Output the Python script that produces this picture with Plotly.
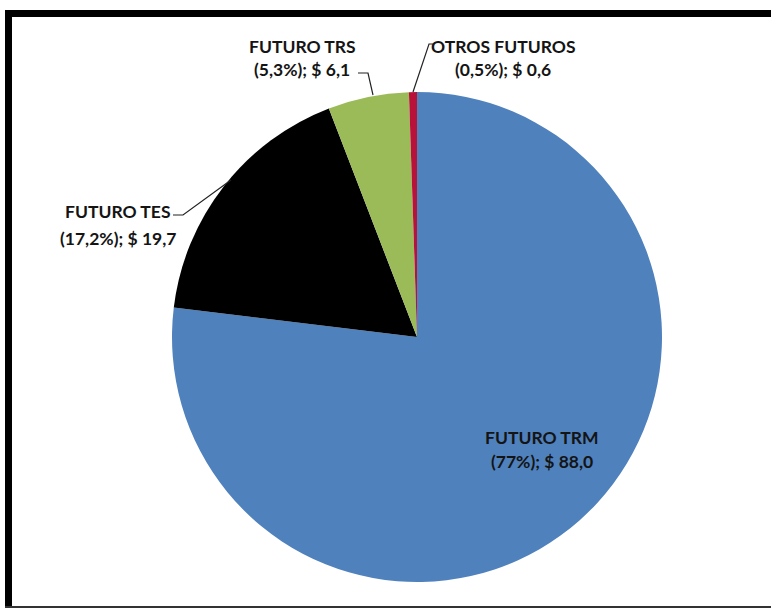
import plotly.graph_objects as go

# Futures volume by contract (billions), share in %
categories = ["FUTURO TRM", "FUTURO TES", "FUTURO TRS", "OTROS FUTUROS"]
values = [88.0, 19.7, 6.1, 0.6]
shares = ["77%", "17,2%", "5,3%", "0,5%"]
colors = ["#4F81BD", "#000000", "#9BBB59", "#B8123A"]

W, H = 771, 608


def px(x):
    return x / W


def py(y):
    return 1 - y / H


def fmt(v):
    return f"{v:.1f}".replace(".", ",")


fig = go.Figure(
    go.Pie(
        labels=categories,
        values=values,
        sort=False,
        direction="clockwise",
        rotation=0,
        marker=dict(colors=colors, line=dict(color="#ffffff", width=0)),
        textinfo="none",
        hoverinfo="label+value+percent",
        showlegend=False,
        domain=dict(x=[px(172), px(662)], y=[py(582), py(92)]),
    )
)

# label anchor points (line 1 centre, line 2 centre)
label_pos = {
    "FUTURO TRM": (542, 437, 462),
    "FUTURO TES": (118, 211, 238),
    "FUTURO TRS": (302, 46, 69),
    "OTROS FUTUROS": (503, 46, 69),
}

font = dict(family="Lato", size=17.5, color="#141414")
for cat, val, share in zip(categories, values, shares):
    x, y1, y2 = label_pos[cat]
    fig.add_annotation(x=px(x), y=py(y1), xref="paper", yref="paper",
                       text=f"<b>{cat}</b>", showarrow=False, font=font,
                       xanchor="center", yanchor="middle")
    fig.add_annotation(x=px(x), y=py(y2), xref="paper", yref="paper",
                       text=f"<b>({share}); $ {fmt(val)}</b>", showarrow=False,
                       font=font, xanchor="center", yanchor="middle")

# leader lines for the outside labels
leaders = [
    [(173, 215), (183, 215), (231, 180)],
    [(358, 73), (368, 73), (373, 95)],
    [(434, 44), (429, 44), (413, 92)],
]
shapes = []
for pts in leaders:
    path = "M " + " L ".join(f"{px(x)},{py(y)}" for x, y in pts)
    shapes.append(dict(type="path", xref="paper", yref="paper", path=path,
                       line=dict(color="#222222", width=1.2)))

# thick frame around the chart area
shapes.append(dict(type="line", xref="paper", yref="paper",
                   x0=px(5), x1=1.01, y0=py(13.5), y1=py(13.5),
                   line=dict(color="#000000", width=7)))
shapes.append(dict(type="line", xref="paper", yref="paper",
                   x0=px(8.5), x1=px(8.5), y0=py(10), y1=-0.01,
                   line=dict(color="#000000", width=7)))
shapes.append(dict(type="line", xref="paper", yref="paper",
                   x0=px(5), x1=1.01, y0=py(607), y1=py(607),
                   line=dict(color="#333333", width=2)))

fig.update_layout(
    width=W,
    height=H,
    margin=dict(l=0, r=0, t=0, b=0),
    paper_bgcolor="#ffffff",
    plot_bgcolor="#ffffff",
    shapes=shapes,
)

fig.write_html("out.html")
